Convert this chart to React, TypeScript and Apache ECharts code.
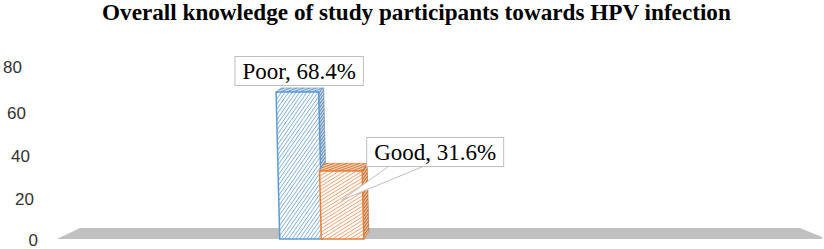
import React, { useEffect, useRef } from "react";
import * as echarts from "echarts";

const titleText = "Overall knowledge of study participants towards HPV infection";
const categories = ["Poor", "Good"];
const percentages = [68.4, 31.6];
const yTicks = [0, 20, 40, 60, 80];

// styling (not data)
const faceStyles = [
  {
    front: { fill: "#ffffff", hatch: "#7eaedd", border: "#5b9bd5", angle: 55 },
    side: { fill: "#c6d5e4", hatch: "#5f87ad", angle: 55 },
    top: { fill: "#d3e2f1", hatch: "#6d9acb", angle: 20 },
  },
  {
    front: { fill: "#ffffff", hatch: "#f2a070", border: "#ed7d31", angle: 32 },
    side: { fill: "#e8bf9f", hatch: "#b9642c", angle: 55 },
    top: { fill: "#f5cfb3", hatch: "#d77a3c", angle: 20 },
  },
];
const labelPlacement = [
  { mode: "above" },
  { mode: "right", pointer: true },
];
const tickPad: Record<number, number[]> = {
  0: [2, 0, 0, 0],
  20: [6, 4, 0, 0],
  40: [6, 8, 0, 0],
  60: [6, 12, 0, 0],
  80: [0, 16, 0, 0],
};

function clipSeg(A: number[], B: number[], poly: number[][]): number[][] | null {
  const c = [0, 0];
  poly.forEach((p) => {
    c[0] += p[0] / poly.length;
    c[1] += p[1] / poly.length;
  });
  let tE = 0,
    tL = 1;
  const D = [B[0] - A[0], B[1] - A[1]];
  for (let k = 0; k < poly.length; k++) {
    const E = poly[k];
    const F = poly[(k + 1) % poly.length];
    let N = [-(F[1] - E[1]), F[0] - E[0]];
    if (N[0] * (c[0] - E[0]) + N[1] * (c[1] - E[1]) < 0) N = [-N[0], -N[1]];
    const num = N[0] * (A[0] - E[0]) + N[1] * (A[1] - E[1]);
    const den = N[0] * D[0] + N[1] * D[1];
    if (Math.abs(den) < 1e-9) {
      if (num < 0) return null;
      continue;
    }
    const t = -num / den;
    if (den > 0) tE = Math.max(tE, t);
    else tL = Math.min(tL, t);
  }
  if (tE > tL) return null;
  return [
    [A[0] + D[0] * tE, A[1] + D[1] * tE],
    [A[0] + D[0] * tL, A[1] + D[1] * tL],
  ];
}

function hatchLines(poly: number[][], angleDeg: number, gap: number, color: string, width: number) {
  const a = (angleDeg * Math.PI) / 180;
  const d = [Math.cos(a), -Math.sin(a)];
  const n = [Math.sin(a), Math.cos(a)];
  const proj = poly.map((p) => p[0] * n[0] + p[1] * n[1]);
  const lo = Math.min(...proj);
  const hi = Math.max(...proj);
  const out: any[] = [];
  for (let t = lo + gap / 2; t < hi; t += gap) {
    const A = [n[0] * t - d[0] * 3000, n[1] * t - d[1] * 3000];
    const B = [n[0] * t + d[0] * 3000, n[1] * t + d[1] * 3000];
    const seg = clipSeg(A, B, poly);
    if (!seg) continue;
    out.push({
      type: "line",
      shape: { x1: seg[0][0], y1: seg[0][1], x2: seg[1][0], y2: seg[1][1] },
      style: { stroke: color, lineWidth: width },
      silent: true,
    });
  }
  return out;
}

function face(poly: number[][], st: any, gap: number, border?: string) {
  return [
    {
      type: "polygon",
      shape: { points: poly },
      style: { fill: st.fill, stroke: "none" },
    },
    ...hatchLines(poly, st.angle, gap, st.hatch, 1),
    {
      type: "polygon",
      shape: { points: poly },
      style: { fill: "none", stroke: border || st.hatch, lineWidth: border ? 1.5 : 0.6 },
    },
  ];
}

export default function App() {
  const ref = useRef<HTMLDivElement>(null);
  useEffect(() => {
    if (!ref.current) return;
    const chart = echarts.init(ref.current, undefined, { renderer: "svg" });
    const option: any = {
      animation: false,
      backgroundColor: "#ffffff",
      title: {
        text: titleText,
        left: 102,
        top: 0,
        padding: 0,
        textStyle: {
          fontFamily: "Liberation Serif",
          fontWeight: "bold",
          fontSize: 23.2,
          color: "#000000",
        },
      },
      graphic: [
        {
          type: "polygon",
          z: 0,
          shape: {
            points: [
              [57, 239],
              [80, 228],
              [800, 228],
              [822, 237],
              [822, 239],
            ],
          },
          style: { fill: "#c0c0c0" },
        },
      ],
      grid: { left: 277, width: 86, top: 67, bottom: 10 },
      xAxis: {
        type: "category",
        data: categories,
        boundaryGap: true,
        axisLine: { show: false },
        axisTick: { show: false },
        axisLabel: { show: false },
        splitLine: { show: false },
      },
      yAxis: {
        type: "value",
        min: yTicks[0],
        max: yTicks[yTicks.length - 1],
        interval: yTicks[1] - yTicks[0],
        axisLine: { show: false },
        axisTick: { show: false },
        splitLine: { show: false },
        axisLabel: {
          margin: 240,
          fontFamily: "Liberation Sans",
          fontSize: 17,
          color: "#333333",
          formatter: (v: number) => `{t${v}|${v}}`,
          rich: Object.fromEntries(
            yTicks.map((t) => [
              "t" + t,
              {
                fontFamily: "Liberation Sans",
                fontSize: 17,
                color: "#333333",
                padding: tickPad[t],
              },
            ])
          ),
        },
      },
      series: [
        {
          type: "custom",
          z: 5,
          data: percentages.map((v, i) => ({ name: categories[i], value: [i, v] })),
          renderItem: (params: any, api: any) => {
            const i = params.dataIndex;
            const v = api.value(1);
            const [cx, yTop] = api.coord([api.value(0), v]);
            const [, yBase] = api.coord([api.value(0), 0]);
            const bw = api.size([1, 0])[0];
            const h = yBase - yTop;
            const sk = h * 0.025;
            const x0 = cx - bw / 2;
            const x1 = cx + bw / 2;
            const dx = 5;
            const dy = 11 - h * 0.048;
            const fs = faceStyles[i];
            const tl = [x0 - sk / 2, yTop];
            const tr = [x1 - sk / 2, yTop];
            const bl = [x0 + sk / 2, yBase];
            const br = [x1 + sk / 2, yBase];
            const front = [tl, tr, br, bl];
            const side = [tr, [tr[0] + dx, yTop - dy], [br[0] + dx, yBase - dy], br];
            const top = [tl, [tl[0] + dx, yTop - dy], [tr[0] + dx, yTop - dy], tr];
            const children: any[] = [
              ...face(side, fs.side, 2.2),
              ...face(top, fs.top, 2.2),
              ...face(front, fs.front, 3, fs.front.border),
            ];
            const text = `${categories[i]}, ${percentages[i].toFixed(1)}%`;
            const lp = labelPlacement[i];
            const labelText = (align: string) => ({
              type: "text",
              style: {
                text,
                fontFamily: "Liberation Serif",
                fontSize: 23,
                fill: "#000000",
                backgroundColor: "#ffffff",
                borderColor: "#bfbfbf",
                borderWidth: 1,
                padding: [3, 7, 2, 7],
                align,
                verticalAlign: "bottom",
              },
            });
            if (lp.mode === "above") {
              children.push({
                type: "rect",
                x: cx,
                y: yTop - dy - 3,
                shape: { x: 0, y: 0, width: 0, height: 0 },
                style: { fill: "none", stroke: "none" },
                textContent: labelText("center"),
                textConfig: { position: [0, 0] },
                z2: 10,
              });
            } else {
              const lx = tr[0] + dx;
              const ly = yTop - 5;
              children.push({
                type: "rect",
                x: lx,
                y: ly,
                shape: { x: 0, y: 0, width: 0, height: 0 },
                style: { fill: "none", stroke: "none" },
                textContent: labelText("left"),
                textConfig: { position: [0, 0] },
                z2: 10,
              });
              if (lp.pointer) {
                const p1 = [lx + 22, ly];
                const p2 = [lx + 57, ly];
                const tip = [cx, yTop + 29];
                children.push({
                  type: "polygon",
                  shape: { points: [[p1[0], ly - 1.5], [p2[0], ly - 1.5], p2, tip, p1] },
                  style: { fill: "#ffffff", stroke: "none" },
                  z2: 11,
                });
                children.push({
                  type: "polyline",
                  shape: { points: [p1, tip, p2] },
                  style: { stroke: "#bfbfbf", lineWidth: 1, fill: "none" },
                  z2: 12,
                });
              }
            }
            return { type: "group", children };
          },
        },
      ],
    };
    chart.setOption(option);
    return () => chart.dispose();
  }, []);
  return (
    <div
      ref={ref}
      style={{ position: "fixed", left: 0, top: 0, width: 824, height: 249 }}
    />
  );
}
